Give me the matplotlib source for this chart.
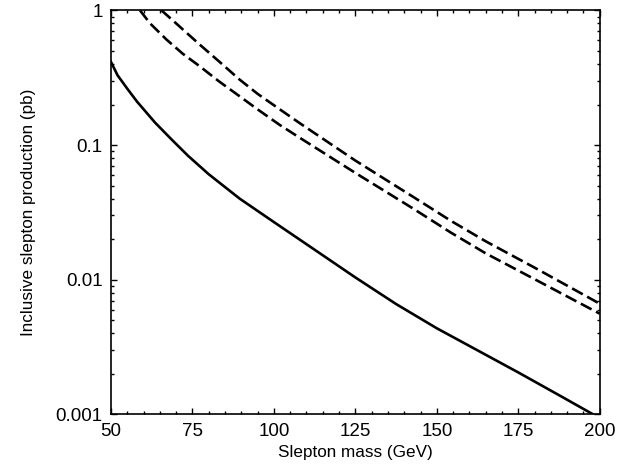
import matplotlib
matplotlib.use("Agg")
import matplotlib.pyplot as plt
from matplotlib.ticker import MultipleLocator, LogLocator, FixedFormatter, FixedLocator

# values (mass in GeV, cross section in pb)
mass_solid = [50, 52, 55, 58, 63.5, 68.6, 73.7, 80, 89.5, 100, 112.5, 125,
              137.5, 150, 162.5, 175, 187.5, 198]
xsec_solid = [0.414, 0.33, 0.262, 0.21, 0.147, 0.110, 0.083, 0.0607, 0.040,
              0.0268, 0.0167, 0.0104, 0.0066, 0.00436, 0.00299, 0.00205,
              0.00139, 0.001]

mass_dash_hi = [65.5, 70, 77.2, 83, 89.5, 95, 102.4, 108, 125, 142.7, 154.3, 165,
                180, 196.5, 200]
xsec_dash_hi = [1.0, 0.80, 0.558, 0.421, 0.306, 0.240, 0.180, 0.145, 0.0767,
                0.0413, 0.0274, 0.0193, 0.0123, 0.0074, 0.00664]

mass_dash_lo = [58.9, 62, 67, 72, 77.2, 83, 89.5, 95, 101.8, 108, 125, 142.7,
                154.3, 165, 180, 192.4, 200]
xsec_dash_lo = [1.0, 0.80, 0.608, 0.477, 0.385, 0.299, 0.230, 0.184, 0.141, 0.113,
                0.0621, 0.0338, 0.0224, 0.0157, 0.0101, 0.0070, 0.0056]

x_ticks = [50, 75, 100, 125, 150, 175, 200]
y_ticks = [0.001, 0.01, 0.1, 1]
y_tick_labels = ["0.001", "0.01", "0.1", "1"]

plt.rcParams['font.family'] = ['Liberation Sans', 'DejaVu Sans']

fig = plt.figure(figsize=(6.38, 4.72), dpi=100)
ax = fig.add_axes([0.174, 0.122, 0.766, 0.856])

ax.plot(mass_solid, xsec_solid, color="black", lw=1.9, solid_joinstyle="round")
ax.plot(mass_dash_hi, xsec_dash_hi, color="black", lw=1.9, dashes=(4.6, 1.9))
ax.plot(mass_dash_lo, xsec_dash_lo, color="black", lw=1.9, dashes=(4.6, 1.9))

ax.set_yscale("log")
ax.set_xlim(50, 200)
ax.set_ylim(0.001, 1)

ax.xaxis.set_major_locator(FixedLocator(x_ticks))
ax.xaxis.set_minor_locator(MultipleLocator(5))
ax.yaxis.set_major_locator(FixedLocator(y_ticks))
ax.yaxis.set_major_formatter(FixedFormatter(y_tick_labels))
ax.yaxis.set_minor_locator(LogLocator(base=10, subs=range(2, 10)))
ax.yaxis.set_minor_formatter(FixedFormatter([]))

ax.tick_params(which="both", direction="in", top=True, right=True, width=1.0,
               labelsize=13.5, pad=6)
ax.tick_params(which="major", length=4.5)
ax.tick_params(which="minor", length=2.3)
for s in ax.spines.values():
    s.set_linewidth(1.2)

ax.set_xlabel("Slepton mass (GeV)", fontsize=12.3, labelpad=4)
ax.set_ylabel("Inclusive slepton production (pb)", fontsize=12.3, labelpad=14)

fig.savefig("out.png", dpi=100)
